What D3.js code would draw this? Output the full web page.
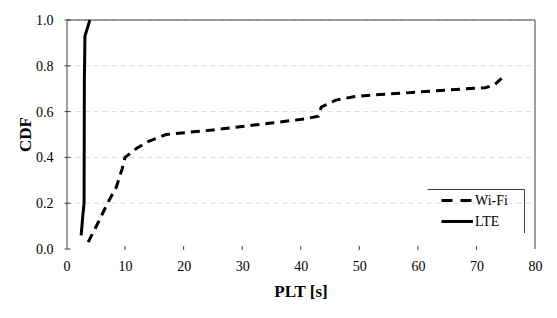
<!DOCTYPE html>
<html>
<head>
<meta charset="utf-8">
<script src="https://cdn.jsdelivr.net/npm/d3@7"></script>
<style>
  body { margin: 0; background: #fff; }
  svg text { fill: #000; }
</style>
</head>
<body>
<svg id="chart" width="557" height="318"></svg>
<script>
// Series: [PLT seconds, CDF]
const wifiPoints = [
  [3.7, 0.03], [5.5, 0.12], [7.0, 0.2], [8.5, 0.27], [9.5, 0.35], [10, 0.4],
  [12, 0.44], [14, 0.47], [17, 0.5], [25, 0.52], [35, 0.55], [40.7, 0.568],
  [43, 0.58], [43.5, 0.62], [46, 0.65], [49, 0.665], [53.5, 0.675],
  [57, 0.68], [66.5, 0.697], [71.5, 0.704], [73, 0.716], [74.3, 0.745]
];
const ltePoints = [
  [2.5, 0.06], [2.8, 0.15], [3.0, 0.2], [3.05, 0.73], [3.15, 0.93], [4.0, 1.0]
];
const xTicks = [0, 10, 20, 30, 40, 50, 60, 70, 80];
const yTicks = [0, 0.2, 0.4, 0.6, 0.8, 1.0];
const legendItems = ["Wi-Fi", "LTE"];

const svg = d3.select("#chart");
const pLeft = 66.5, pRight = 535, pTop = 20, pBottom = 249;
const serif = "'Liberation Serif', 'Times New Roman', serif";

const x = d3.scaleLinear().domain([0, 80]).range([pLeft, pRight]);
const y = d3.scaleLinear().domain([0, 1]).range([pBottom, pTop]);

// gridlines
svg.append("g").selectAll("line")
    .data(yTicks.filter(d => d > 0))
    .join("line")
    .attr("x1", pLeft).attr("x2", pRight)
    .attr("y1", d => y(d)).attr("y2", d => y(d))
    .attr("stroke", "#d9d9d9")
    .attr("stroke-dasharray", "5,4");

// plot frame: top and right
svg.append("path")
    .attr("d", `M${pLeft},${pTop}H${pRight}V${pBottom}`)
    .attr("fill", "none")
    .attr("stroke", "#404040")
    .attr("stroke-width", 1);

// y axis
const yAxis = svg.append("g")
    .attr("transform", `translate(${pLeft},0)`)
    .call(d3.axisLeft(y).tickValues(yTicks).tickFormat(d3.format(".1f")).tickSize(0).tickPadding(13));
yAxis.attr("font-family", serif).attr("font-size", 14);
yAxis.select(".domain").attr("stroke", "#404040");
svg.append("g").selectAll("line")
    .data(yTicks)
    .join("line")
    .attr("x1", pLeft - 2).attr("x2", pLeft + 4)
    .attr("y1", d => y(d)).attr("y2", d => y(d))
    .attr("stroke", "#404040");

// x axis (no baseline, small tick marks)
const xAxis = svg.append("g")
    .attr("transform", `translate(0,${pBottom})`)
    .call(d3.axisBottom(x).tickValues(xTicks).tickSize(0).tickPadding(12));
xAxis.attr("font-family", serif).attr("font-size", 14);
xAxis.select(".domain").remove();
svg.append("g").selectAll("line")
    .data(xTicks.filter(d => d > 0 && d < 80))
    .join("line")
    .attr("x1", d => x(d)).attr("x2", d => x(d))
    .attr("y1", pBottom - 3).attr("y2", pBottom + 1)
    .attr("stroke", "#404040");

// lines
const line = d3.line().x(d => x(d[0])).y(d => y(d[1]));
svg.append("path")
    .datum(wifiPoints)
    .attr("d", line)
    .attr("fill", "none")
    .attr("stroke", "#000")
    .attr("stroke-width", 3)
    .attr("stroke-dasharray", "9,6");
svg.append("path")
    .datum(ltePoints)
    .attr("d", line)
    .attr("fill", "none")
    .attr("stroke", "#000")
    .attr("stroke-width", 3);

// axis titles
svg.append("text")
    .attr("transform", `translate(31,${(pTop + pBottom) / 2}) rotate(-90)`)
    .attr("text-anchor", "middle")
    .attr("font-family", serif)
    .attr("font-size", 17)
    .attr("font-weight", "bold")
    .text("CDF");
svg.append("text")
    .attr("x", 301)
    .attr("y", 297)
    .attr("text-anchor", "middle")
    .attr("font-family", serif)
    .attr("font-size", 17)
    .attr("font-weight", "bold")
    .text("PLT [s]");

// legend (top and right edges only)
svg.append("path")
    .attr("d", "M427.5,189.5H524.5V233")
    .attr("fill", "none")
    .attr("stroke", "#404040");
const leg = svg.append("g").selectAll("g")
    .data(legendItems)
    .join("g")
    .attr("transform", (d, i) => `translate(0,${200.5 + i * 21})`);
leg.append("line")
    .attr("x1", 441.5).attr("x2", 473)
    .attr("stroke", "#000")
    .attr("stroke-width", 3)
    .attr("stroke-dasharray", (d, i) => i === 0 ? "11,8" : null);
leg.append("text")
    .attr("x", 475)
    .attr("dy", "0.35em")
    .attr("font-family", serif)
    .attr("font-size", 14)
    .text(d => d);
</script>
</body>
</html>
